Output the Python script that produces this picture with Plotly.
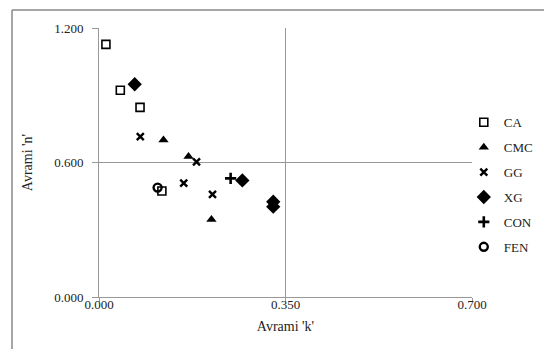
import plotly.graph_objects as go

# Data
ca_k = [0.013, 0.040, 0.077, 0.118]
ca_n = [1.127, 0.922, 0.846, 0.473]

cmc_k = [0.121, 0.168, 0.211]
cmc_n = [0.700, 0.627, 0.346]

gg_k = [0.0775, 0.159, 0.183, 0.213]
gg_n = [0.715, 0.508, 0.603, 0.458]

xg_k = [0.067, 0.269, 0.327, 0.327]
xg_n = [0.949, 0.520, 0.425, 0.403]

con_k = [0.247]
con_n = [0.529]

fen_k = [0.110]
fen_n = [0.488]

x_ticks = [0.0, 0.35, 0.7]
y_ticks = [0.0, 0.6, 1.2]

FONT = "Liberation Serif"
GRID = "#999999"
TXT = "#222222"

series = [
    ("CA", ca_k, ca_n, dict(symbol="square-open", size=8, color="black", line=dict(width=1.6, color="black"))),
    ("CMC", cmc_k, cmc_n, dict(symbol="triangle-up", size=9, color="black")),
    ("GG", gg_k, gg_n, dict(symbol="x-thin", size=7, color="black", line=dict(width=2.4, color="black"))),
    ("XG", xg_k, xg_n, dict(symbol="diamond", size=11, color="black")),
    ("CON", con_k, con_n, dict(symbol="cross-thin", size=8, color="black", line=dict(width=2.6, color="black"))),
    ("FEN", fen_k, fen_n, dict(symbol="circle-open", size=8, color="black", line=dict(width=2.4, color="black"))),
]

fig = go.Figure()
for name, xs, ys, mk in series:
    fig.add_trace(go.Scatter(x=xs, y=ys, mode="markers", name=name, marker=mk,
                             legendgroup=name))

fig.update_layout(
    width=544, height=341,
    margin=dict(l=91, r=80, t=20, b=52),
    paper_bgcolor="white", plot_bgcolor="white",
    font=dict(family=FONT, color=TXT, size=12),
    showlegend=True,
    legend=dict(x=0.978, y=0.705, xanchor="left", yanchor="top",
                font=dict(family=FONT, size=13, color=TXT),
                tracegroupgap=5, itemwidth=30, bgcolor="rgba(0,0,0,0)",
                borderwidth=0),
    xaxis=dict(range=[0, 0.7], tickvals=x_ticks, ticktext=[f"{v:.3f}" for v in x_ticks],
               showgrid=True, gridcolor=GRID, gridwidth=1, zeroline=False,
               showline=True, linecolor=GRID, linewidth=1,
               ticks="outside", ticklen=4, tickcolor=GRID, ticklabelstandoff=-9,
               tickfont=dict(family=FONT, size=13, color=TXT),
               title=dict(text="Avrami 'k'", font=dict(family=FONT, size=14, color=TXT), standoff=10)),
    yaxis=dict(range=[0, 1.2], tickvals=y_ticks, ticktext=[f"{v:.3f}" for v in y_ticks],
               showgrid=True, gridcolor=GRID, gridwidth=1, zeroline=False,
               showline=True, linecolor=GRID, linewidth=1,
               ticks="outside", ticklen=6, tickcolor=GRID, ticklabelstandoff=6,
               tickfont=dict(family=FONT, size=13, color=TXT),
               title=dict(text="Avrami 'n'", font=dict(family=FONT, size=14, color=TXT), standoff=18)),
)

# outer chart frame (top and left edges visible)
fig.add_shape(type="line", xref="paper", yref="paper", x0=-0.2332, x1=1.25, y0=1.0669, y1=1.0669,
              line=dict(color="#888888", width=1.5))
fig.add_shape(type="line", xref="paper", yref="paper", x0=-0.2332, x1=-0.2332, y0=1.0669, y1=-0.25,
              line=dict(color="#888888", width=1.5))

fig.write_html("out.html")
